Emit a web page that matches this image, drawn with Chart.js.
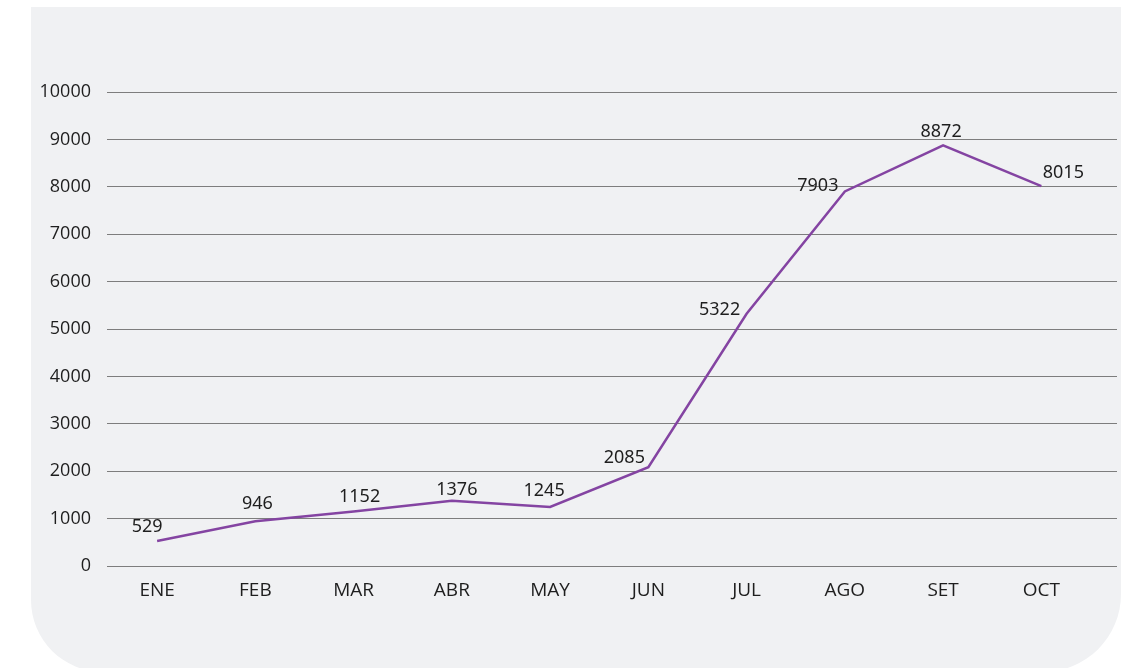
<!DOCTYPE html>
<html>
<head>
<meta charset="utf-8">
<script src="https://cdn.jsdelivr.net/npm/chart.js@4.4.0/dist/chart.umd.min.js"></script>
<style>
  html, body { margin: 0; padding: 0; background: #ffffff; }
  body { width: 1122px; height: 668px; position: relative; overflow: hidden; }
  #panel { position: absolute; left: 31px; top: 7px; width: 1090px; height: 665px;
           background: #f0f1f3; border-radius: 0 0 78px 72px; }
  #wrap { position: absolute; left: 0; top: 0; width: 1122px; height: 668px; }
</style>
</head>
<body>
<div id="panel"></div>
<div id="wrap"><canvas id="c" width="1122" height="668"></canvas></div>
<script>
const categories = ["ENE", "FEB", "MAR", "ABR", "MAY", "JUN", "JUL", "AGO", "SET", "OCT"];
const values = [529, 946, 1152, 1376, 1245, 2085, 5322, 7903, 8872, 8015];
const yTicks = [0, 1000, 2000, 3000, 4000, 5000, 6000, 7000, 8000, 9000, 10000];
// label offsets (style only) relative to each point
const labelOffsets = [[-10,-14],[2,-17],[6,-15],[5,-11],[-6,-16],[-24,-9],[-27,-4],[-27,-6],[-2,-14],[22,-13]];

const points = values.map((v, i) => ({ x: i, y: v }));

const dataLabels = {
  id: 'dataLabels',
  afterDatasetsDraw(chart) {
    const ctx = chart.ctx;
    const meta = chart.getDatasetMeta(0);
    ctx.save();
    ctx.font = '18px "Noto Sans", "Open Sans", sans-serif';
    ctx.fillStyle = '#1e1e1e';
    ctx.textAlign = 'center';
    ctx.textBaseline = 'middle';
    meta.data.forEach((pt, i) => {
      const o = labelOffsets[i];
      ctx.fillText(String(values[i]), pt.x + o[0], pt.y + o[1]);
    });
    ctx.restore();
  }
};

new Chart(document.getElementById('c'), {
  type: 'line',
  data: {
    datasets: [{
      data: points,
      borderColor: '#8444a2',
      borderWidth: 2.5,
      pointRadius: 0,
      tension: 0,
      fill: false
    }]
  },
  options: {
    responsive: false,
    animation: false,
    layout: { padding: { top: 92, right: 5, bottom: 0, left: 0 } },
    plugins: { legend: { display: false }, tooltip: { enabled: false } },
    scales: {
      x: {
        type: 'linear',
        min: -0.51,
        max: 9.77,
        afterBuildTicks(scale) { scale.ticks = categories.map((c, i) => ({ value: i })); },
        afterFit(scale) { scale.height = 102; },
        grid: { display: false },
        border: { display: false },
        ticks: {
          autoSkip: false,
          maxRotation: 0,
          padding: 5,
          color: '#1e1e1e',
          font: { family: '"Open Sans", "Noto Sans", sans-serif', size: 19 },
          callback: (v) => categories[v] ?? ''
        }
      },
      y: {
        min: 0,
        max: 10000,
        afterBuildTicks(scale) { scale.ticks = yTicks.map(v => ({ value: v })); },
        afterFit(scale) { scale.width = 107; },
        grid: { color: '#7d7d7d', lineWidth: 1, drawTicks: false },
        border: { display: false },
        ticks: {
          padding: 16,
          color: '#1e1e1e',
          font: { family: '"Open Sans", "Noto Sans", sans-serif', size: 18 },
          callback: (v) => String(v)
        }
      }
    }
  },
  plugins: [dataLabels]
});
</script>
</body>
</html>
